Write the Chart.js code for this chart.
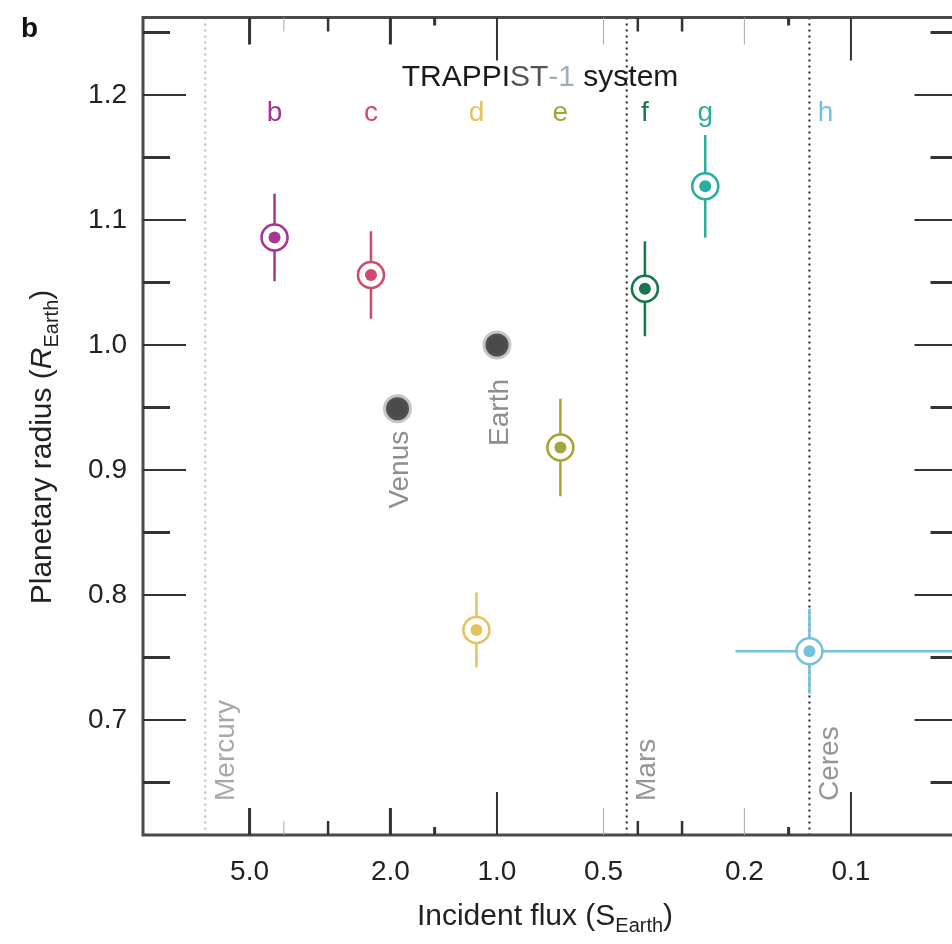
<!DOCTYPE html>
<html>
<head>
<meta charset="utf-8">
<script src="https://cdn.jsdelivr.net/npm/chart.js@4.4.1/dist/chart.umd.min.js"></script>
<style>
	html, body { margin: 0; padding: 0; background: #fff; overflow: hidden; }
	#radiusFluxChart { display: block; }
</style>
</head>
<body>
<canvas id="radiusFluxChart" width="975" height="944"></canvas>
<script>
// TRAPPIST-1 planets
const planetNames = ['b', 'c', 'd', 'e', 'f', 'g', 'h'];
const planetFlux = [4.25, 2.27, 1.143, 0.662, 0.382, 0.258, 0.131];
const planetFluxErr = [0.33, 0.18, 0.088, 0.051, 0.030, 0.020, 0.081];
const planetRadius = [1.086, 1.056, 0.772, 0.918, 1.045, 1.127, 0.755];
const planetRadiusErr = [0.035, 0.035, 0.030, 0.039, 0.038, 0.041, 0.034];
const planetColors = ['#a8368f', '#cf4a6c', '#e6c260', '#a3a534', '#15784b', '#2aae9c', '#74c2de'];

// Solar System bodies shown as markers
const solarNames = ['Venus', 'Earth'];
const solarFlux = [1.91, 1.0];
const solarRadius = [0.949, 1.0];

// Solar System bodies shown as vertical flux lines
const orbitNames = ['Mercury', 'Mars', 'Ceres'];
const orbitFlux = [6.67, 0.43, 0.131];
const orbitColors = ['#b8b8b8', '#222', '#222'];
const orbitTextColors = ['#a8a8a8', '#959595', '#959595'];

// axes
const fluxTicks = [5, 2, 1, 0.5, 0.2, 0.1];
const fluxMinorTicks = [4, 3, 1.5, 0.4, 0.3, 0.15];
const radiusTicks = [0.7, 0.8, 0.9, 1.0, 1.1, 1.2];
const radiusMinorTicks = [0.65, 0.75, 0.85, 0.95, 1.05, 1.15, 1.25];

const FONT = '"Liberation Sans", Arial, Helvetica, sans-serif';

function xTickStyle(v) {
	const lg = Math.log10(v);
	if (Math.abs(lg - Math.round(lg)) < 1e-6) return { len: 43, w: 2, c: '#333' };
	if (v === 0.5 || v === 0.2) return { len: 27, w: 1, c: '#aaa' };
	if (v === 5 || v === 2) return { len: 27, w: 3, c: '#333' };
	if (v === 4) return { len: 14, w: 1, c: '#aaa' };
	if (v === 1.5 || v === 0.15) return { len: 8, w: 3, c: '#333' };
	return { len: 14, w: 2.5, c: '#333' };
}

function drawRich(ctx, parts, x, y) {
	let total = 0;
	parts.forEach(function (p) {
		ctx.font = p.font;
		p.w = ctx.measureText(p.text).width;
		total += p.w;
	});
	let cx = x - total / 2;
	parts.forEach(function (p) {
		ctx.font = p.font;
		ctx.fillStyle = p.color || '#222';
		ctx.fillText(p.text, cx, y + (p.dy || 0));
		cx += p.w;
	});
}

const decorations = {
	id: 'decorations',
	beforeDatasetsDraw(chart) {
		const { ctx, chartArea: a, scales: { x, y } } = chart;
		ctx.save();
		// dotted flux lines of Mercury, Mars, Ceres
		ctx.lineWidth = 2;
		ctx.setLineDash([2, 4]);
		orbitFlux.forEach(function (f, i) {
			const px = x.getPixelForValue(f);
			ctx.strokeStyle = orbitColors[i];
			ctx.beginPath();
			ctx.moveTo(px, a.top);
			ctx.lineTo(px, a.bottom);
			ctx.stroke();
		});
		ctx.setLineDash([]);

		// error bars
		ctx.lineWidth = 2.5;
		planetFlux.forEach(function (f, i) {
			const px = x.getPixelForValue(f);
			const py = y.getPixelForValue(planetRadius[i]);
			ctx.strokeStyle = planetColors[i];
			ctx.beginPath();
			ctx.moveTo(px, y.getPixelForValue(planetRadius[i] + planetRadiusErr[i]));
			ctx.lineTo(px, y.getPixelForValue(planetRadius[i] - planetRadiusErr[i]));
			ctx.moveTo(x.getPixelForValue(f + planetFluxErr[i]), py);
			ctx.lineTo(x.getPixelForValue(Math.max(f - planetFluxErr[i], x.min)), py);
			ctx.stroke();
		});
		ctx.restore();
	},
	afterDatasetsDraw(chart) {
		const { ctx, chartArea: a, scales: { x, y } } = chart;
		ctx.save();

		// frame
		ctx.strokeStyle = '#4a4a4a';
		ctx.lineWidth = 3;
		ctx.strokeRect(a.left, a.top, a.right - a.left, a.bottom - a.top);

		// inward ticks, radius axis (both sides)
		ctx.strokeStyle = '#333';
		radiusTicks.concat(radiusMinorTicks).forEach(function (v) {
			const major = radiusTicks.indexOf(v) >= 0;
			const len = major ? 43 : 27;
			const py = y.getPixelForValue(v);
			ctx.lineWidth = major ? 2 : 3;
			ctx.beginPath();
			ctx.moveTo(a.left, py);
			ctx.lineTo(a.left + len, py);
			ctx.moveTo(a.right, py);
			ctx.lineTo(a.right - len, py);
			ctx.stroke();
		});

		// inward ticks, flux axis (top and bottom)
		fluxTicks.concat(fluxMinorTicks).forEach(function (v) {
			const s = xTickStyle(v);
			const px = x.getPixelForValue(v);
			ctx.strokeStyle = s.c;
			ctx.lineWidth = s.w;
			ctx.beginPath();
			ctx.moveTo(px, a.bottom);
			ctx.lineTo(px, a.bottom - s.len);
			ctx.moveTo(px, a.top);
			ctx.lineTo(px, a.top + s.len);
			ctx.stroke();
		});

		// Solar System labels, vertical text
		ctx.font = '28px ' + FONT;
		ctx.textBaseline = 'middle';
		orbitNames.forEach(function (name, i) {
			const px = x.getPixelForValue(orbitFlux[i]);
			ctx.save();
			ctx.translate(px + 21, a.bottom - 34);
			ctx.rotate(-Math.PI / 2);
			ctx.textAlign = 'left';
			ctx.fillStyle = orbitTextColors[i];
			ctx.fillText(name, 0, 0);
			ctx.restore();
		});
		solarNames.forEach(function (name, i) {
			const px = x.getPixelForValue(solarFlux[i]);
			const py = y.getPixelForValue(solarRadius[i]);
			const gap = name === 'Earth' ? 34 : 22;
			ctx.save();
			ctx.translate(px + 3, py + gap);
			ctx.rotate(-Math.PI / 2);
			ctx.textAlign = 'right';
			ctx.fillStyle = '#8e8e8e';
			ctx.fillText(name, 0, 0);
			ctx.restore();
		});

		// planet letters
		ctx.textAlign = 'center';
		planetNames.forEach(function (name, i) {
			let px = x.getPixelForValue(planetFlux[i]);
			if (name === 'h') px += 16;
			ctx.fillStyle = planetColors[i];
			ctx.fillText(name, px, a.top + 96);
		});

		// system title
		ctx.textAlign = 'left';
		ctx.textBaseline = 'alphabetic';
		const tf = '30px ' + FONT;
		drawRich(ctx, [
			{ text: 'TRAPPI', font: tf, color: '#1a1a1a' },
			{ text: 'ST', font: tf, color: '#555' },
			{ text: '-1', font: tf, color: '#9fb0b8' },
			{ text: ' system', font: tf, color: '#1a1a1a' }
		], 540, a.top + 68);

		// axis titles
		const af = '30px ' + FONT;
		const sf = '20px ' + FONT;
		drawRich(ctx, [
			{ text: 'Incident flux (S', font: af },
			{ text: 'Earth', font: sf, dy: 7 },
			{ text: ')', font: af }
		], 545, 925);

		ctx.save();
		ctx.translate(51, 447);
		ctx.rotate(-Math.PI / 2);
		drawRich(ctx, [
			{ text: 'Planetary radius (', font: af },
			{ text: 'R', font: 'italic ' + af },
			{ text: 'Earth', font: sf, dy: 7 },
			{ text: ')', font: af }
		], 0, 0);
		ctx.restore();

		// panel letter
		ctx.font = 'bold 28px ' + FONT;
		ctx.fillStyle = '#111';
		ctx.fillText('b', 21, 37);
		ctx.restore();
	}
};

const ctx = document.getElementById('radiusFluxChart').getContext('2d');
const chart = new Chart(ctx, {
	type: 'scatter',
	data: {
		datasets: [
			{
				label: 'TRAPPIST-1 cores',
				data: planetFlux.map((f, i) => ({ x: f, y: planetRadius[i] })),
				pointRadius: 6,
				pointBackgroundColor: planetColors,
				pointBorderWidth: 0,
			},
			{
				label: 'TRAPPIST-1',
				data: planetFlux.map((f, i) => ({ x: f, y: planetRadius[i] })),
				pointRadius: 13,
				pointBackgroundColor: '#fff',
				pointBorderColor: planetColors,
				pointBorderWidth: 2.6,
			},
			{
				label: 'Solar System',
				data: solarFlux.map((f, i) => ({ x: f, y: solarRadius[i] })),
				pointRadius: 11.5,
				pointBackgroundColor: '#4a4a4a',
				pointBorderColor: 'rgba(90, 90, 90, 0.35)',
				pointBorderWidth: 6,
			},
		],
	},
	options: {
		responsive: false,
		animation: false,
		devicePixelRatio: 1,
		layout: { padding: { top: 16, right: 16, left: 0, bottom: 0 } },
		plugins: {
			legend: { display: false },
			tooltip: { enabled: false },
		},
		scales: {
			x: {
				type: 'logarithmic',
				reverse: true,
				min: 0.05,
				max: 10,
				grid: { display: false },
				border: { display: false },
				afterBuildTicks: function (scale) {
					scale.ticks = fluxTicks.map(v => ({ value: v }));
				},
				afterFit: function (scale) {
					scale.height = 109;
					scale.paddingLeft = 0;
					scale.paddingRight = 0;
				},
				ticks: {
					autoSkip: false,
					maxRotation: 0,
					padding: 12,
					color: '#222',
					font: { family: FONT, size: 28 },
					callback: function (value) {
						return Number(value).toFixed(1);
					},
				},
			},
			y: {
				min: 0.608,
				max: 1.262,
				grid: { display: false },
				border: { display: false },
				afterBuildTicks: function (scale) {
					scale.ticks = radiusTicks.map(v => ({ value: v }));
				},
				afterFit: function (scale) {
					scale.width = 143;
					scale.paddingTop = 0;
					scale.paddingBottom = 0;
				},
				ticks: {
					padding: 8,
					color: '#222',
					font: { family: FONT, size: 28 },
					callback: function (value) {
						return Number(value).toFixed(1);
					},
				},
			},
		},
	},
	plugins: [decorations],
});
</script>
</body>
</html>
